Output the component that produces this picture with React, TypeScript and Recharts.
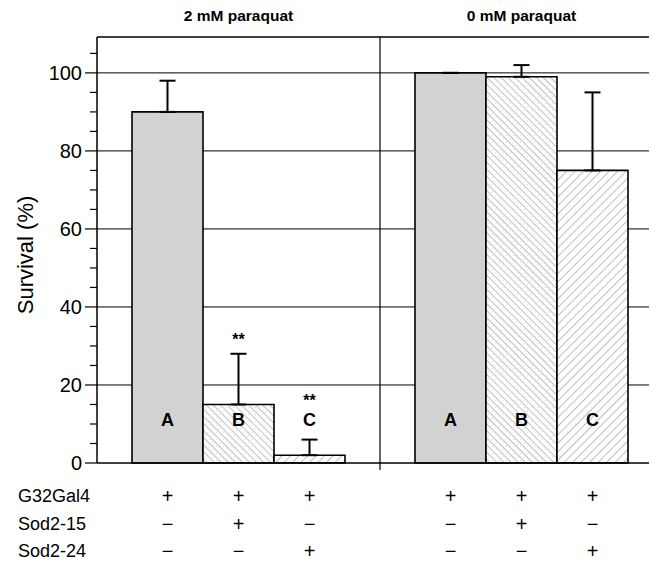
import { BarChart, Bar, XAxis, YAxis, CartesianGrid, ErrorBar, LabelList } from "recharts";

// paraquat survival, three strains per treatment
const groups = ["2 mM paraquat", "0 mM paraquat"];
const survivalA = [90, 100];
const survivalB = [15, 99];
const survivalC = [2, 75];
const errorA = [8, 0];
const errorB = [13, 3];
const errorC = [4, 20];
const sigB = ["**", ""];
const sigC = ["**", ""];
const yTicks = [0, 5, 10, 15, 20, 25, 30, 35, 40, 45, 50, 55, 60, 65, 70, 75, 80, 85, 90, 95, 100, 105];
const majorTicks = [0, 20, 40, 60, 80, 100];
const rowLabels = ["G32Gal4", "Sod2-15", "Sod2-24"];
const genotype = [
  ["+", "+", "+"],
  ["\u2212", "+", "\u2212"],
  ["\u2212", "\u2212", "+"],
];

const data = groups.map((g, i) => ({
  group: g,
  a: survivalA[i],
  b: survivalB[i],
  c: survivalC[i],
  aErr: [0, errorA[i]],
  bErr: [0, errorB[i]],
  cErr: [0, errorC[i]],
}));

const FONT = "'Liberation Sans', Arial, Helvetica, sans-serif";
const GAP = 35;
const PLOT_TOP = 29;

function YTick(props: any) {
  const { x, y, payload } = props;
  const major = majorTicks.includes(payload.value);
  return (
    <g>
      <line x1={x - (major ? 12 : 7)} x2={x} y1={y} y2={y} stroke="#000" strokeWidth={1.2} />
      {major && (
        <text x={x - 15} y={y} textAnchor="end" dominantBaseline="central" fontSize={20} fontFamily={FONT} fill="#000">
          {payload.value}
        </text>
      )}
    </g>
  );
}

function TopTick(props: any) {
  const { x, y, payload } = props;
  return (
    <text x={x} y={y - 14} textAnchor="middle" fontSize={15.5} fontWeight="bold" fontFamily={FONT} fill="#000">
      {payload.value}
    </text>
  );
}

function BottomTick(props: any) {
  const { x, y, payload } = props;
  const half = payload.offset;
  const barW = (2 * half - 2 * GAP) / 3;
  const cols = [x - barW, x, x + barW];
  return (
    <g fontFamily={FONT} fill="#000">
      {payload.index === 0 && (
        <>
          <line x1={x + half} x2={x + half} y1={PLOT_TOP} y2={y + 7} stroke="#000" strokeWidth={1.2} />
          {rowLabels.map((r, ri) => (
            <text key={r} x={10} y={y + 33 + ri * 27.5} dominantBaseline="central" fontSize={18}>
              {r}
            </text>
          ))}
        </>
      )}
      {genotype.map((row, ri) =>
        row.map((s, ci) => (
          <text key={ri + "-" + ci} x={cols[ci]} y={y + 33 + ri * 27.5} textAnchor="middle" dominantBaseline="central" fontSize={20}>
            {s}
          </text>
        ))
      )}
    </g>
  );
}

function barLabel(letter: string, sig: string[], errs: number[]) {
  return (props: any) => {
    const { x, y, width, height, value, index } = props;
    const bottom = y + height;
    const cx = x + width / 2;
    const labelY = bottom - 43;
    const perUnit = value ? height / value : 0;
    const capY = bottom - (value + errs[index]) * perUnit;
    const starY = Math.min(capY - 14, labelY - 20);
    return (
      <g fontFamily={FONT} fill="#000">
        <text x={cx} y={labelY} textAnchor="middle" dominantBaseline="central" fontSize={18} fontWeight="bold">
          {letter}
        </text>
        {sig[index] && (
          <text x={cx} y={starY} textAnchor="middle" dominantBaseline="central" fontSize={16} fontWeight="bold">
            {sig[index]}
          </text>
        )}
      </g>
    );
  };
}

export default function App() {
  return (
    <div style={{ width: 649, height: 555, overflow: "hidden" }}>
      <BarChart
        width={655}
        height={555}
        data={data}
        margin={{ top: 0, right: 0, bottom: 0, left: 0 }}
        barCategoryGap={GAP}
        barGap={0}
      >
        <defs>
          <pattern id="hatchB" width="5" height="5" patternUnits="userSpaceOnUse" patternTransform="rotate(45)">
            <rect width="5" height="5" fill="#fff" />
            <line x1="0" y1="0" x2="5" y2="0" stroke="#808080" strokeWidth={1} />
            <circle cx="2.5" cy="2.5" r="0.45" fill="#b0b0b0" />
          </pattern>
          <pattern id="hatchC" width="6" height="6" patternUnits="userSpaceOnUse" patternTransform="rotate(-45)">
            <rect width="6" height="6" fill="#fff" />
            <line x1="0" y1="0" x2="6" y2="0" stroke="#808080" strokeWidth={1} />
          </pattern>
        </defs>
        <CartesianGrid horizontal vertical={false} horizontalValues={[20, 40, 60, 80, 100]} stroke="#000" strokeWidth={1} />
        <XAxis
          xAxisId="top"
          orientation="top"
          dataKey="group"
          height={PLOT_TOP}
          axisLine={{ stroke: "#000", strokeWidth: 1.5 }}
          tickLine={false}
          tickSize={0}
          tick={<TopTick />}
        />
        <XAxis
          dataKey="group"
          height={100}
          axisLine={{ stroke: "#000", strokeWidth: 1.5 }}
          tickLine={false}
          tickSize={0}
          tickMargin={0}
          tick={<BottomTick />}
        />
        <YAxis
          width={89}
          domain={[0, 109.2]}
          ticks={yTicks}
          interval={0}
          tickSize={0}
          tickMargin={0}
          tickLine={false}
          axisLine={{ stroke: "#000", strokeWidth: 1.5 }}
          tick={<YTick />}
          label={({ viewBox }: any) => (
            <text
              transform={`translate(${17},${viewBox.y + viewBox.height / 2 + 5}) rotate(-90)`}
              textAnchor="middle"
              dominantBaseline="central"
              fontSize={22}
              fontFamily={FONT}
              fill="#000"
            >
              Survival (%)
            </text>
          )}
        />
        <Bar dataKey="a" fill="#d2d2d2" stroke="#000" strokeWidth={1.6} isAnimationActive={false}>
          <ErrorBar dataKey="aErr" width={8} stroke="#000" strokeWidth={2} direction="y" />
          <LabelList dataKey="a" content={barLabel("A", ["", ""], errorA)} />
        </Bar>
        <Bar dataKey="b" fill="url(#hatchB)" stroke="#000" strokeWidth={1.6} isAnimationActive={false}>
          <ErrorBar dataKey="bErr" width={8} stroke="#000" strokeWidth={2} direction="y" />
          <LabelList dataKey="b" content={barLabel("B", sigB, errorB)} />
        </Bar>
        <Bar dataKey="c" fill="url(#hatchC)" stroke="#000" strokeWidth={1.6} isAnimationActive={false}>
          <ErrorBar dataKey="cErr" width={8} stroke="#000" strokeWidth={2} direction="y" />
          <LabelList dataKey="c" content={barLabel("C", sigC, errorC)} />
        </Bar>
      </BarChart>
    </div>
  );
}
